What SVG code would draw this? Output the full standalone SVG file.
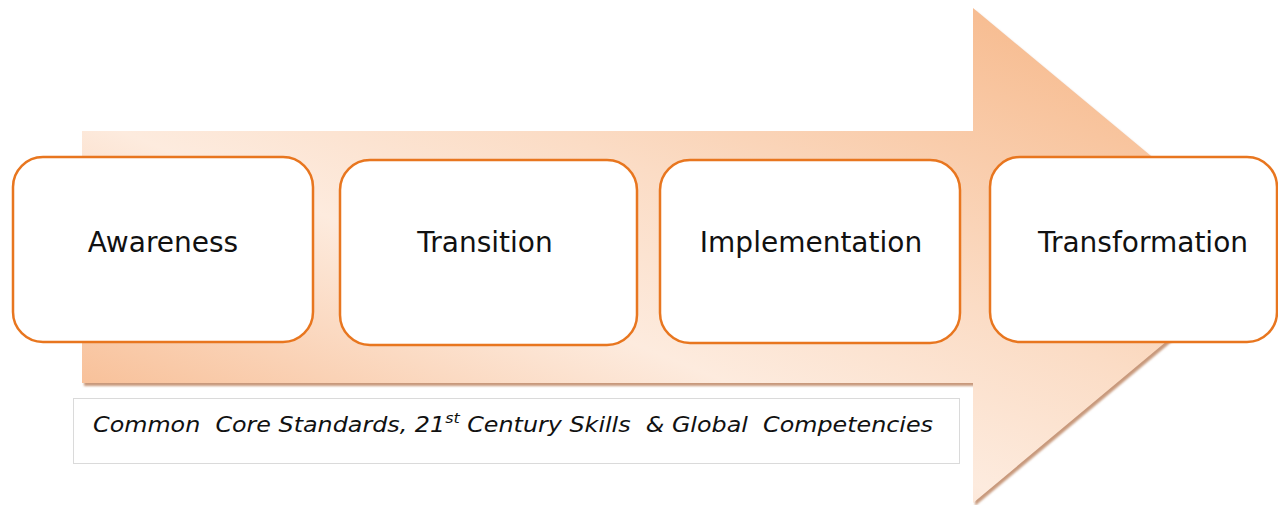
<svg xmlns="http://www.w3.org/2000/svg" width="1278" height="505" viewBox="0 0 1278 505">
  <defs>
    <linearGradient id="arrowGrad" gradientUnits="userSpaceOnUse" x1="-7" y1="346" x2="256" y2="-289">
      <stop offset="0" stop-color="#f8c19a"/>
      <stop offset="0.36" stop-color="#fdebde"/>
      <stop offset="0.6" stop-color="#fbdcc5"/>
      <stop offset="1" stop-color="#f7bd92"/>
    </linearGradient>
    <filter id="blur" x="-5%" y="-5%" width="110%" height="110%">
      <feGaussianBlur stdDeviation="1"/>
    </filter>
  </defs>
  <style>
    .box { fill: #ffffff; stroke: #e8761f; stroke-width: 2.5; }
    .label { font-family: "DejaVu Sans", Verdana, sans-serif; font-size: 28px; fill: #111111; text-anchor: middle; }
    .note { font-family: "DejaVu Sans", Verdana, sans-serif; font-size: 21px; font-style: italic; fill: #111111; white-space: pre; }
  </style>
  <rect x="0" y="0" width="1278" height="505" fill="#ffffff"/>
  <g id="arrow">
    <path d="M84,134 H975 V11 L1272,258 L975,506 V386 H84 Z" fill="#c8997b" filter="url(#blur)"/>
    <path d="M82,131 H973 V8 L1270,255 L973,503 V383 H82 Z" fill="url(#arrowGrad)"/>
  </g>
  <g id="note">
    <rect x="73.5" y="398.5" width="886" height="65" fill="#ffffff" stroke="#dadada" stroke-width="1"/>
    <text class="note" x="93" y="432" xml:space="preserve" textLength="840" lengthAdjust="spacingAndGlyphs">Common  Core Standards, 21<tspan font-size="14" dy="-9">st</tspan><tspan dy="9"> Century Skills  &amp; Global  Competencies</tspan></text>
  </g>
  <g id="awareness">
    <rect class="box" x="13" y="157" width="300" height="185" rx="30"/>
    <text class="label" x="163" y="252">Awareness</text>
  </g>
  <g id="transition">
    <rect class="box" x="340" y="160" width="297" height="185" rx="30"/>
    <text class="label" x="485" y="252">Transition</text>
  </g>
  <g id="implementation">
    <rect class="box" x="660" y="160" width="300" height="183" rx="30"/>
    <text class="label" x="811" y="252">Implementation</text>
  </g>
  <g id="transformation">
    <rect class="box" x="990" y="157" width="287" height="185" rx="30"/>
    <text class="label" x="1143" y="252">Transformation</text>
  </g>
  <g id="connectors"/>
</svg>
